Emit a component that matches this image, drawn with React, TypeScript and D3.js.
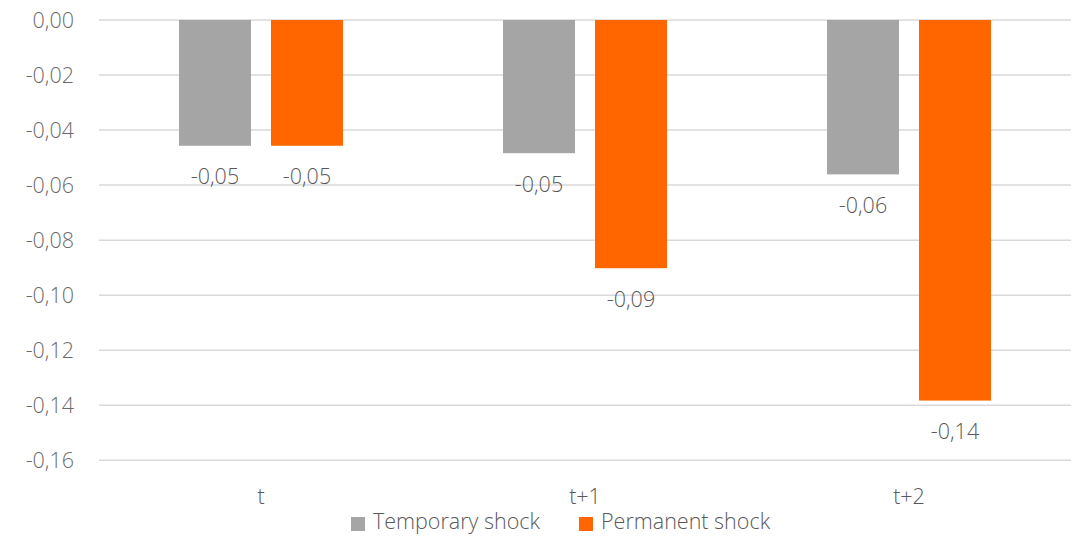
import React from "react";
import * as d3 from "d3";

const categories = ["t", "t+1", "t+2"];
const seriesNames = ["Temporary shock", "Permanent shock"];
const temporary = [-0.0457, -0.0484, -0.0561];
const permanent = [-0.0457, -0.0902, -0.1383];
const yTicks = [0, -0.02, -0.04, -0.06, -0.08, -0.1, -0.12, -0.14, -0.16];
const colors = ["#a5a5a5", "#ff6600"];

const W = 1074;
const H = 536;
const FONT = "'Open Sans', 'Segoe UI', sans-serif";
const FS = 21.5;

export default function App() {
  const x = d3.scaleBand<string>().domain(categories).range([99, 1071]);
  const y = d3.scaleLinear().domain([0, -0.16]).range([20, 460.3]);
  const barW = 72;
  const gap = 20;
  const fmt = (v: number) => d3.format(".2f")(v).replace("−", "-").replace(".", ",");
  const series = [temporary, permanent];

  return (
    <svg width={W} height={H} style={{ position: "absolute", left: 0, top: 0, background: "#fff" }}>
      {yTicks.map((t) => (
        <g key={t}>
          <line x1={99} x2={1071} y1={y(t)} y2={y(t)} stroke="#d9d9d9" strokeWidth={1.5} />
          <text x={74} y={y(t)} dy="0.35em" textAnchor="end" fontFamily={FONT} fontWeight={300} fontSize={FS} fill="#6b6b6b">
            {fmt(t).replace(/^-0,00$/, "0,00")}
          </text>
        </g>
      ))}
      {categories.map((c, i) => {
        const cx = x(c)! + x.bandwidth() / 2;
        const start = cx - (barW * 2 + gap) / 2;
        return (
          <g key={c}>
            {series.map((s, j) => {
              const bx = start + j * (barW + gap);
              const y0 = y(0);
              const y1 = y(s[i]);
              return (
                <g key={j}>
                  <rect x={bx} y={y0} width={barW} height={y1 - y0} fill={colors[j]} />
                  <text x={bx + barW / 2} y={y1 + 31} dy="0.35em" textAnchor="middle" fontFamily={FONT} fontWeight={300} fontSize={FS} fill="#595959">
                    {fmt(s[i])}
                  </text>
                </g>
              );
            })}
            <text x={cx} y={496} dy="0.35em" textAnchor="middle" fontFamily={FONT} fontWeight={300} fontSize={FS} fill="#595959">
              {c}
            </text>
          </g>
        );
      })}
      {seriesNames.map((n, j) => {
        const lx = [351, 579][j];
        return (
          <g key={n}>
            <rect x={lx} y={517} width={14} height={14} fill={colors[j]} />
            <text x={lx + 22} y={521} dy="0.35em" fontFamily={FONT} fontWeight={300} fontSize={FS} fill="#595959">
              {n}
            </text>
          </g>
        );
      })}
    </svg>
  );
}
